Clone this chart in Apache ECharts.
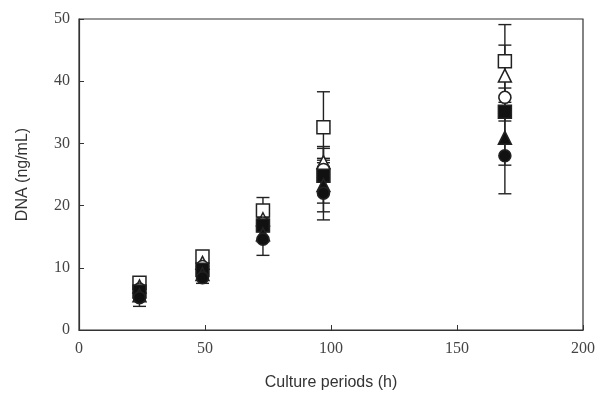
<!DOCTYPE html>
<html>
<head>
<meta charset="utf-8">
<script src="https://cdn.jsdelivr.net/npm/echarts@6/dist/echarts.min.js"></script>
<style>
  html, body { margin: 0; padding: 0; background: #fff; }
  #chart { width: 603px; height: 396px; }
</style>
</head>
<body>
<div id="chart"></div>
<script>
// Culture time points (h), as plotted
const hours = [24, 49, 73, 97, 169];

// DNA concentration (ng/mL), mean values per condition
const openSquare   = [7.6, 11.8, 19.2, 32.6, 43.2];
const openTriangle = [7.0, 10.8, 17.8, 27.0, 40.9];
const openCircle   = [6.6, 10.2, 17.2, 25.8, 37.4];
const fillSquare   = [6.2,  9.7, 16.8, 24.8, 35.1];
const fillTriangle = [5.6,  9.0, 15.4, 23.3, 30.9];
const fillCircle   = [5.2,  8.4, 14.6, 22.0, 28.0];

// Standard deviations
const sdOpenSquare   = [0.8, 0.9, 2.1, 5.7, 5.9];
const sdOpenTriangle = [0.6, 0.7, 1.0, 2.5, 4.9];
const sdOpenCircle   = [0.5, 0.6, 0.9, 1.5, 1.5];
const sdFillSquare   = [0.6, 0.7, 1.0, 4.4, 1.5];
const sdFillTriangle = [0.8, 0.8, 1.2, 4.3, 4.4];
const sdFillCircle   = [1.4, 0.9, 2.6, 4.3, 6.1];

const xTicks = [0, 50, 100, 150, 200];
const yTicks = [0, 10, 20, 30, 40, 50];

const groups = [
  { name: 'open square',   y: openSquare,   sd: sdOpenSquare,   symbol: 'rect',     size: 13, fill: '#ffffff' },
  { name: 'open triangle', y: openTriangle, sd: sdOpenTriangle, symbol: 'triangle', size: 13, fill: '#ffffff' },
  { name: 'open circle',   y: openCircle,   sd: sdOpenCircle,   symbol: 'circle',   size: 12, fill: '#ffffff' },
  { name: 'filled square', y: fillSquare,   sd: sdFillSquare,   symbol: 'rect',     size: 13, fill: '#111111' },
  { name: 'filled triangle', y: fillTriangle, sd: sdFillTriangle, symbol: 'triangle', size: 13, fill: '#111111' },
  { name: 'filled circle', y: fillCircle,   sd: sdFillCircle,   symbol: 'circle',   size: 12, fill: '#111111' }
];

const ink = '#222222';

function errorBarSeries(g) {
  return {
    type: 'custom',
    name: g.name + ' sd',
    z: 1,
    data: hours.map((h, i) => [h, g.y[i] - g.sd[i], g.y[i] + g.sd[i]]),
    renderItem: function (params, api) {
      const lo = api.coord([api.value(0), api.value(1)]);
      const hi = api.coord([api.value(0), api.value(2)]);
      const cap = 6.5;
      const style = { stroke: ink, lineWidth: 1.4 };
      return {
        type: 'group',
        children: [
          { type: 'line', shape: { x1: hi[0], y1: hi[1], x2: lo[0], y2: lo[1] }, style: style },
          { type: 'line', shape: { x1: hi[0] - cap, y1: hi[1], x2: hi[0] + cap, y2: hi[1] }, style: style },
          { type: 'line', shape: { x1: lo[0] - cap, y1: lo[1], x2: lo[0] + cap, y2: lo[1] }, style: style }
        ]
      };
    }
  };
}

function markerSeries(g, idx) {
  return {
    type: 'scatter',
    name: g.name,
    z: 10 - idx,
    symbol: g.symbol,
    symbolSize: g.size,
    data: hours.map((h, i) => [h, g.y[i]]),
    itemStyle: { color: g.fill, borderColor: ink, borderWidth: 1.5, opacity: 1 },
    emphasis: { disabled: true }
  };
}

const series = [];
groups.forEach(g => series.push(errorBarSeries(g)));
// filled markers go first so the open ones sit above them
groups.slice().reverse().forEach((g, k) => series.push(markerSeries(g, k)));

const chart = echarts.init(document.getElementById('chart'), null, { renderer: 'canvas' });
chart.setOption({
  animation: false,
  backgroundColor: '#ffffff',
  grid: {
    left: 79, right: 20, top: 19, bottom: 66,
    show: true, borderColor: '#333', borderWidth: 1.2, backgroundColor: 'transparent'
  },
  xAxis: {
    type: 'value',
    min: xTicks[0], max: xTicks[xTicks.length - 1], interval: 50,
    name: 'Culture periods (h)',
    nameLocation: 'middle',
    nameGap: 45,
    nameTextStyle: { fontFamily: 'Liberation Sans', fontSize: 16, color: '#333' },
    axisLine: { show: true, lineStyle: { color: '#333', width: 1.2 } },
    axisTick: { show: true, inside: true, length: 5, lineStyle: { color: '#333' } },
    axisLabel: { fontFamily: 'Liberation Serif', fontSize: 16, color: '#444', margin: 11 },
    splitLine: { show: false }
  },
  yAxis: {
    type: 'value',
    min: yTicks[0], max: yTicks[yTicks.length - 1], interval: 10,
    name: 'DNA (ng/mL)',
    nameLocation: 'middle',
    nameGap: 48,
    nameTextStyle: { fontFamily: 'Liberation Sans', fontSize: 16, color: '#333' },
    axisLine: { show: true, lineStyle: { color: '#333', width: 1.2 } },
    axisTick: { show: true, inside: true, length: 5, lineStyle: { color: '#333' } },
    axisLabel: { fontFamily: 'Liberation Serif', fontSize: 16, color: '#444', margin: 9 },
    splitLine: { show: false }
  },
  series: series
});
</script>
</body>
</html>
